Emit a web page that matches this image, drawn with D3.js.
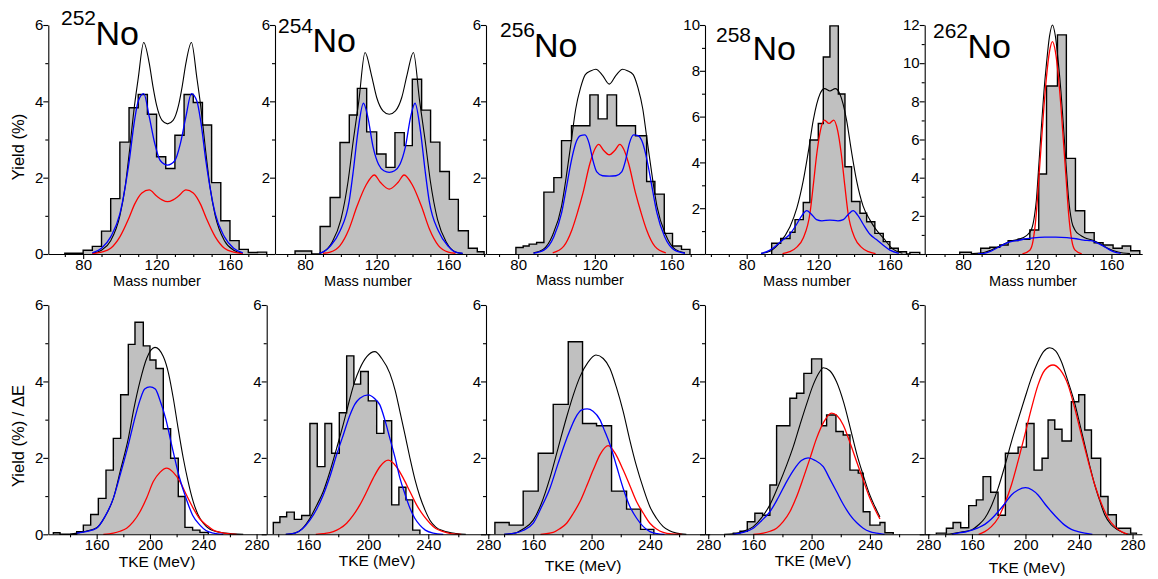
<!DOCTYPE html>
<html lang="en">
<head>
<meta charset="UTF-8" />
<title>No isotopes: mass and TKE distributions</title>
<style>
  body { margin: 0; background: #fff; }
  svg { display: block; font-family: "Liberation Sans", Arial, sans-serif; }
  .tick text { font-size: 15px; fill: #000; }
  .tick line, .domain { stroke: #000; stroke-width: 1.1; }
</style>
</head>
<body>
<svg id="chart" width="1158" height="579"></svg>
<script src="https://d3js.org/d3.v7.min.js"></script>
<script>
// ---------- data ----------
const isotopes = ["252", "254", "256", "258", "262"];
const massTicks = [80, 120, 160];
const tkeTicks = [160, 200, 240, 280];

// mass yield histograms (bin edges, yield %)
const massEdges252 = [70,80,85,90,95,100,105,110,115,120,125,130,135,140,145,150,155,160,165,170,175,180];
const massYield252 = [0.02,0.1,0.2,0.6,1.45,2.93,3.83,4.18,3.66,2.55,2.24,3.11,4.18,3.97,3.38,1.87,0.87,0.35,0.12,0.04,0.05];
const massEdges254 = [74.4,83.7,88.4,94,99.5,104.7,109.2,114.4,120,125.2,130.2,135.4,139.9,145.1,150.1,155.3,160.6,165.6,171.2,176.2,180];
const massYield254 = [0.08,0,0.72,1.48,2.92,3.64,4.34,3.2,2.62,2.27,3.18,2.84,4.58,3.77,2.93,2.16,1.43,0.61,0.15,0.06];
const massEdges256 = [78.8,82.6,85.7,89.6,93.4,98.6,102.6,107.8,117.4,121.7,126.4,131.3,141.2,147,151.3,156.2,160.5,165.2,169.6];
const massYield256 = [0.17,0.21,0.26,0.3,1.62,2.0,2.97,3.36,4.17,3.54,4.17,3.36,3.1,1.9,1.57,0.54,0.21,0.12];
const massEdges258 = [93.95,99,104.2,107,111.6,115.3,120,122.8,126.5,131.2,134.9,138.6,143.3,147,151.6,156.3,160,164.7,169.3,171.2,176.7];
const massYield258 = [0.47,0.68,0.95,1.5,2.25,4.98,5.7,8.6,9.96,6.99,3.81,2.29,1.78,1.41,0.9,0.54,0.25,0.1,0,0.07];
const massEdges262 = [78.2,84.5,89.5,94.4,99.8,104.3,109.7,116,120.8,125,130.9,135.7,140.6,145.6,150.7,155.5,160.9,165.8,170.4,175.3];
const massYield262 = [0.09,0,0.3,0.35,0.47,0.7,0.77,1.26,4.19,8.8,11.48,5.01,2.27,1.12,0.59,0.47,0.3,0.42,0.17];

// mass fit curves: sum (black), mode 1 (blue), mode 2 (red) as [A, yield]
const massSum252 = [[85,0.02],[90,0.1],[95,0.35],[100,1.0],[103,1.8],[105,2.6],[108,3.9],[110,4.6],[113,5.54],[116,5.0],[118,4.4],[120,3.9],[123,3.5],[126,3.41],[129,3.5],[132,3.9],[134,4.4],[136,5.0],[139,5.54],[142,4.6],[144,3.9],[147,2.6],[149,1.8],[152,1.0],[157,0.35],[162,0.1],[167,0.02]];
const massMode1_252 = [[85,0.03],[90,0.15],[95,0.45],[100,1.05],[105,2.4],[108,3.5],[110,4.0],[113,4.2],[116,3.6],[119,2.9],[122,2.45],[126,2.33],[130,2.45],[133,2.9],[136,3.6],[139,4.2],[142,4.0],[144,3.5],[147,2.4],[152,1.05],[157,0.45],[162,0.15],[167,0.03]];
const massMode2_252 = [[85,0.01],[90,0.05],[95,0.15],[100,0.45],[105,0.95],[108,1.3],[112,1.6],[116,1.68],[120,1.52],[123,1.42],[126,1.37],[129,1.42],[132,1.52],[136,1.68],[140,1.6],[144,1.3],[147,0.95],[152,0.45],[157,0.15],[162,0.05],[167,0.01]];

const massSum254 = [[88,0.02],[90,0.05],[95,0.3],[100,0.9],[104,1.9],[107,3.0],[110,4.0],[113.5,5.28],[117,4.7],[120,4.1],[123.5,3.75],[127,3.66],[130.5,3.75],[134,4.1],[137,4.7],[140.5,5.28],[144,4.0],[147,3.0],[150,1.9],[154,0.9],[159,0.3],[164,0.05],[168,0.01]];
const massMode1_254 = [[88,0.02],[90,0.05],[94,0.2],[99.5,0.6],[104.7,1.4],[107,2.2],[109.5,3.2],[112.6,3.95],[115,3.6],[118,2.8],[121,2.35],[124,2.18],[127,2.14],[130,2.18],[133,2.35],[136,2.8],[139,3.6],[141.4,3.95],[144.5,3.2],[147,2.2],[149.3,1.4],[154.5,0.6],[160,0.2],[164,0.05],[168,0.02]];
const massMode2_254 = [[90,0.02],[94,0.05],[99.5,0.22],[104.5,0.65],[109,1.25],[114,1.8],[118.7,2.07],[122,1.88],[127,1.7],[132,1.88],[135.3,2.07],[140,1.8],[145,1.25],[149.5,0.65],[154.5,0.22],[160,0.05],[164,0.02]];

const massSum256 = [[88,0.03],[93,0.12],[98,0.5],[102.6,1.25],[105,2.0],[107.8,3.0],[110,3.8],[112.5,4.35],[115,4.7],[118,4.8],[120.5,4.84],[124,4.68],[127.5,4.45],[131,4.68],[134.5,4.84],[137,4.8],[140,4.7],[142.5,4.35],[145,3.8],[147.2,3.0],[150,2.0],[152.4,1.25],[157,0.5],[162,0.12],[167,0.03]];
const massMode1_256 = [[88,0.02],[93.4,0.1],[98.6,0.45],[102.6,1.07],[105,1.7],[107.8,2.46],[110,2.9],[112.5,3.1],[114.8,3.12],[117,2.9],[119,2.45],[121,2.15],[124,2.05],[127.5,2.04],[131,2.05],[134,2.15],[136,2.45],[138,2.9],[140.2,3.12],[142.5,3.1],[145,2.9],[147.2,2.46],[150,1.7],[152.4,1.07],[156.4,0.45],[161.6,0.1],[167,0.02]];
const massMode2_256 = [[98,0.03],[103.7,0.2],[108,0.63],[111,1.1],[113.8,1.6],[117.4,2.37],[120,2.75],[122,2.87],[124.5,2.72],[127.5,2.6],[130.5,2.72],[133,2.87],[135,2.75],[137.6,2.37],[141.2,1.6],[144,1.1],[147,0.63],[151.3,0.2],[157,0.03]];

const massSum258 = [[88,0.03],[93,0.12],[98,0.45],[104.2,1.19],[108,2.0],[111.6,3.2],[114.5,4.5],[117.2,5.85],[121,7.0],[123.5,7.22],[126.5,7.12],[129.5,7.22],[132,7.0],[135.8,5.85],[138.5,4.5],[141.4,3.2],[145,2.1],[148.9,1.48],[152,1.1],[156.3,0.7],[161.9,0.2],[167,0.03]];
const massMode1_258 = [[88,0.02],[93,0.17],[97,0.4],[100.5,0.63],[104,0.85],[107.9,1.3],[111,1.7],[113.5,1.89],[116,1.75],[119,1.5],[122,1.45],[126.5,1.48],[131,1.45],[134,1.5],[137,1.75],[139.5,1.89],[142,1.7],[145.1,1.3],[149,0.85],[152.5,0.63],[156,0.4],[160,0.17],[165,0.03]];
const massMode2_258 = [[100,0.02],[104,0.1],[108,0.3],[111.6,0.7],[115.4,1.8],[117.2,3.0],[119.2,4.4],[121.2,5.4],[123.4,5.85],[126,5.7],[128.6,5.85],[130.8,5.4],[132.8,4.4],[134.8,3.0],[136.6,1.8],[140.4,0.7],[144,0.3],[148,0.1],[152,0.02]];

const massSum262 = [[85,0.02],[91.7,0.09],[95,0.2],[100.7,0.45],[105,0.66],[109.7,0.77],[114,0.95],[116.9,1.3],[118.5,2.0],[119.5,2.8],[120.8,4.6],[122.2,6.6],[123.6,8.5],[125,10.0],[126.6,11.4],[128.2,12.0],[129.8,11.4],[131.4,10.0],[132.8,8.5],[134.2,6.6],[135.6,4.6],[136.9,2.9],[138.6,1.7],[140.4,1.25],[143,1.0],[145.6,0.85],[150,0.72],[154.6,0.5],[158,0.3],[163.6,0.1],[170,0.02]];
const massMode1_262 = [[88,0.01],[92,0.05],[95,0.15],[98,0.3],[101,0.45],[104,0.6],[107,0.68],[110,0.72],[114,0.8],[118,0.85],[124,0.88],[130,0.88],[136,0.86],[141,0.8],[145,0.73],[149,0.7],[152,0.6],[155,0.45],[158,0.28],[161,0.12],[165,0.03]];
const massMode2_262 = [[112,0.01],[116,0.2],[117.8,0.73],[119.5,2.13],[120.8,3.9],[122.2,5.8],[123.6,7.7],[125,9.3],[126.6,10.6],[128.2,11.13],[129.8,10.6],[131.4,9.3],[132.8,7.7],[134.2,5.8],[135.6,3.9],[136.9,2.13],[138.6,0.73],[140.4,0.2],[144,0.01]];

// TKE histograms (bin edges MeV, yield % / dE)
const tkeEdges252 = [127.5,132.5,145,150,155.5,161.25,167,172.5,178,183.75,188.75,195,200,204.5,210,215.5,221.25,226.25,232,237.5,243.75];
const tkeYield252 = [0.04,0,0.07,0.24,0.52,0.94,1.68,2.51,3.65,4.97,5.55,4.93,4.56,4.34,2.76,1.99,0.99,0.18,0.11,0.05];
const tkeEdges254 = [136.7,141.1,145.6,150.7,155.6,161.1,166,171.1,175.6,180.7,185.6,190.4,194.9,200,205.6,210.4,215.6,220.4,225.1,229.6,234.4];
const tkeYield254 = [0.31,0.46,0.58,0.39,0.49,2.9,1.77,2.9,2.12,3.18,4.67,3.93,4.26,3.49,2.64,2.97,0.77,1.23,0.9,0.11];
const tkeEdges256 = [133.7,143.5,153.1,163.4,173.7,184,193.8,203.4,213.7,224,233.6,242.7];
const tkeYield256 = [0.31,0.24,1.13,2.12,3.4,5.04,2.9,2.84,1.13,0.66,0.13];
const tkeEdges258 = [146.3,150.9,155.9,161.1,166.4,171.4,176,185.1,189.7,194.7,200,206.9,210.3,216.7,221.7,226.3,232,235.4,240,246.9,250.3,256];
const tkeYield258 = [0.03,0.08,0.33,0.55,0.5,1.29,2.84,3.56,3.69,4.21,4.59,2.84,3.12,2.69,2.6,1.68,1.6,0.59,0.24,0.31,0.04];
const tkeEdges262 = [133.4,140.9,145.9,151.6,157.6,163.3,168.3,174,179.5,185,194.5,200.7,206.4,212.4,216.9,221.9,227.3,234.3,239.8,244.3,249.3,256.2,261.7,267.9,278.6,282.9];
const tkeYield262 = [0.03,0.16,0.31,0.17,0.75,0.9,1.51,1.1,0.5,2.12,2.28,2.9,1.68,1.99,2.99,2.75,2.44,3.47,3.65,2.73,1.99,0.99,0.51,0.16,0.03];

// TKE fit curves as [MeV, yield]
const tkeSum252 = [[140,0],[145,0.03],[152,0.08],[160,0.17],[166,0.45],[172.5,0.94],[178,1.7],[183.75,2.51],[188,3.3],[192.5,4.0],[197.5,4.6],[203.75,4.89],[210,4.65],[214,4.2],[217.5,3.56],[221,2.8],[225,1.99],[228.5,1.4],[232.5,0.85],[236,0.52],[240,0.29],[245,0.13],[250,0.07],[256,0.03],[262.5,0.01],[270,0]];
const tkeMode1_252 = [[145,0.03],[152,0.07],[160,0.16],[166,0.45],[172.5,0.94],[178,1.6],[183.75,2.34],[188,2.95],[192.5,3.51],[196,3.8],[200,3.86],[204,3.8],[207.5,3.51],[212,3.0],[216.25,2.34],[222,1.5],[227.5,0.9],[232,0.5],[237.5,0.24],[242,0.1],[247.5,0.03],[255,0]];
const tkeMode2_252 = [[165,0],[172.5,0.03],[177.5,0.08],[182.5,0.16],[187.5,0.33],[192.5,0.59],[197.5,0.95],[202.5,1.38],[207.5,1.62],[212.5,1.73],[217.5,1.62],[222.5,1.38],[227.5,1.02],[232.5,0.68],[237.5,0.4],[242.5,0.24],[247.5,0.11],[252.5,0.05],[260,0.01],[265,0]];

const tkeSum254 = [[145,0],[151.1,0.03],[156,0.15],[161.1,0.42],[165.5,0.75],[170,1.12],[174.5,1.65],[178.9,2.25],[183.5,2.9],[187.8,3.56],[191,4.0],[194.4,4.34],[199,4.65],[204.4,4.78],[209,4.6],[214.4,4.21],[218,3.75],[221.1,3.21],[224.5,2.6],[227.8,1.99],[231,1.45],[234.4,0.99],[238,0.62],[241.1,0.37],[245,0.19],[250,0.09],[258.9,0.02],[265,0]];
const tkeMode1_254 = [[145,0],[151.1,0.03],[156,0.14],[161.1,0.37],[165.5,0.65],[170,1.03],[174.5,1.52],[178.9,2.08],[183.5,2.62],[187.8,3.12],[191,3.4],[194.4,3.56],[200,3.65],[204,3.56],[207.8,3.38],[211,3.0],[214.4,2.51],[218,1.98],[221.1,1.47],[224.5,1.05],[227.8,0.68],[231,0.42],[234.4,0.24],[238,0.11],[243.3,0.03],[250,0]];
const tkeMode2_254 = [[165,0],[170,0.02],[176.7,0.07],[181,0.15],[185.6,0.29],[190,0.5],[194.4,0.77],[199,1.12],[203.3,1.47],[208,1.78],[213.3,1.94],[218.5,1.78],[223.3,1.47],[228,1.1],[232.2,0.77],[237,0.48],[241.1,0.29],[245,0.15],[250,0.07],[255,0.02],[262,0]];

const tkeSum256 = [[140,0],[147.4,0.03],[153,0.14],[160,0.37],[165.5,0.8],[171.4,1.47],[177,2.25],[182.9,3.07],[187.5,3.65],[192,4.12],[197.5,4.5],[203,4.69],[208,4.6],[212.6,4.34],[217,3.85],[221.7,3.21],[226,2.5],[230.9,1.77],[235.5,1.2],[240,0.72],[244.5,0.42],[249.1,0.2],[253.5,0.09],[258.3,0.03],[265,0]];
const tkeMode1_256 = [[140,0],[147.4,0.03],[153,0.1],[160,0.29],[165.5,0.7],[171.4,1.2],[177,1.85],[182.9,2.5],[189.7,3.1],[193,3.25],[197,3.28],[201,3.22],[205.7,3.0],[209,2.7],[212.6,2.35],[217,1.8],[221.7,1.2],[226,0.75],[230.9,0.42],[235.5,0.2],[240,0.07],[245,0.02],[250,0]];
const tkeMode2_256 = [[165,0],[173.7,0.05],[178,0.14],[182.9,0.29],[187.5,0.55],[192,0.85],[196.5,1.25],[201.1,1.68],[206,2.1],[211.4,2.32],[216.5,2.1],[221.7,1.68],[226.5,1.25],[230.9,0.85],[235.5,0.55],[240,0.29],[244.5,0.14],[249.1,0.05],[255,0.01],[262,0]];

const tkeSum258 = [[140,0],[146.3,0.01],[153,0.08],[160,0.2],[166,0.45],[171.4,0.77],[177,1.25],[182.9,1.81],[187.5,2.3],[192,2.86],[196.5,3.4],[201.1,3.91],[205,4.22],[208,4.36],[212.5,4.28],[217.1,3.99],[222,3.45],[226.3,2.82],[231,2.1],[235.4,1.55],[240,1.02],[243.5,0.72],[246.9,0.45]];
const tkeMode1_258 = [[146.3,0],[153,0.05],[160,0.16],[165.5,0.35],[171.4,0.59],[177,0.95],[182.9,1.38],[188,1.7],[193,1.93],[197.7,2.0],[202.5,1.93],[208,1.77],[212.5,1.45],[217.1,1.12],[221.5,0.8],[226.3,0.51],[231,0.3],[235.4,0.16],[240,0.07],[244.6,0.03],[250,0]];
const tkeMode2_258 = [[160,0],[166.9,0.03],[171.5,0.08],[176,0.16],[180.5,0.33],[185.1,0.59],[189.7,0.98],[194.3,1.47],[199,2.0],[203.4,2.51],[208.5,2.95],[213.7,3.17],[217.5,3.1],[221.7,2.86],[226.3,2.4],[230.9,1.9],[235.4,1.42],[240,0.94],[243.5,0.65],[246.9,0.4]];

const tkeSum262 = [[140,0],[145.9,0.02],[152,0.06],[159.6,0.11],[165,0.25],[169.6,0.42],[175,0.78],[179.5,1.2],[184.5,1.78],[189.5,2.42],[194.5,3.0],[199.5,3.56],[204.5,4.1],[209.4,4.52],[213.5,4.78],[218.1,4.88],[222.5,4.8],[226.8,4.52],[231.8,4.0],[236.8,3.43],[240.5,2.9],[244.3,2.34],[248,1.8],[251.8,1.29],[255.5,0.88],[259.2,0.51],[264,0.25],[269.2,0.11],[274,0.03],[279.2,0]];
const tkeMode1_262 = [[145,0],[149.6,0.03],[155,0.06],[160,0.11],[164.6,0.17],[169.6,0.26],[174.5,0.4],[179.5,0.59],[184.5,0.8],[189.5,1.03],[194.5,1.16],[200,1.22],[205,1.16],[209.4,1.03],[214.4,0.8],[219.4,0.59],[224.4,0.4],[229.3,0.24],[234.3,0.13],[239.3,0.07],[244.3,0.03],[250,0]];
const tkeMode2_262 = [[165,0],[169.6,0.07],[174.5,0.2],[179.5,0.42],[184.5,0.8],[189.5,1.29],[194.5,1.92],[199.5,2.6],[204.5,3.3],[209.4,3.91],[214.5,4.3],[220.6,4.43],[226,4.3],[231.8,3.91],[236.8,3.3],[241.8,2.6],[246.8,1.92],[251.8,1.29],[256.8,0.8],[261.8,0.42],[266.8,0.2],[271.7,0.07],[276.5,0]];

// ---------- layout (pixels) ----------
const topFrames = [
  { left: 48.3, right: 274.0, dom: [61, 184], ymax: 6, tx: 157, ty: 286, sup: [61, 25], no: [95.5, 45] },
  { left: 275, right: 485.9, dom: [63.2, 181], ymax: 6, tx: 368, ty: 286, sup: [278, 33], no: [312.5, 52] },
  { left: 486, right: 704.9, dom: [63.2, 177.4], ymax: 6, tx: 580, ty: 285, sup: [500, 37], no: [534, 57] },
  { left: 705, right: 924.6, dom: [56.7, 179.4], ymax: 10, tx: 807, ty: 286, sup: [716, 42], no: [752.5, 60] },
  { left: 924.7, right: 1142.2, dom: [59.3, 176.6], ymax: 12, tx: 1033, ty: 286, sup: [933, 38], no: [967.5, 58] }
];
const botFrames = [
  { left: 48.3, right: 266.7, dom: [123.7, 287.6], tx: 157, ty: 567 },
  { left: 266.7, right: 489.8, dom: [132.3, 281], tx: 377, ty: 566 },
  { left: 486, right: 709.7, dom: [127.6, 281], tx: 583, ty: 571 },
  { left: 705, right: 929.7, dom: [126.9, 281], tx: 813, ty: 566 },
  { left: 924.7, right: 1141.9, dom: [124.7, 287], tx: 1027, ty: 573 }
];
const topY = [254, 25];
const botY = [534.3, 305];

const massHists = [[massEdges252, massYield252], [massEdges254, massYield254], [massEdges256, massYield256], [massEdges258, massYield258], [massEdges262, massYield262]];
const massFits = [[massSum252, massMode2_252, massMode1_252], [massSum254, massMode2_254, massMode1_254], [massSum256, massMode2_256, massMode1_256], [massSum258, massMode2_258, massMode1_258], [massSum262, massMode2_262, massMode1_262]];
const tkeHists = [[tkeEdges252, tkeYield252], [tkeEdges254, tkeYield254], [tkeEdges256, tkeYield256], [tkeEdges258, tkeYield258], [tkeEdges262, tkeYield262]];
const tkeFits = [[tkeSum252, tkeMode2_252, tkeMode1_252], [tkeSum254, tkeMode2_254, tkeMode1_254], [tkeSum256, tkeMode2_256, tkeMode1_256], [tkeSum258, tkeMode2_258, tkeMode1_258], [tkeSum262, tkeMode2_262, tkeMode1_262]];
const fitColors = ["#000000", "#ff0000", "#0000ff"];
const fitWidths = [1.1, 1.3, 1.3];

const svg = d3.select("#chart");

function drawPanel(frame, yRange, ymax, hist, fits, xTickStep, xFirst, xMajors, index) {
  const g = svg.append("g");
  const x = d3.scaleLinear().domain(frame.dom).range([frame.left, frame.right]);
  const y = d3.scaleLinear().domain([0, ymax]).range(yRange);

  // histogram as a filled step outline
  const [edges, vals] = hist;
  const pts = [[edges[0], 0]];
  vals.forEach((v, i) => pts.push([edges[i], v], [edges[i + 1], v]));
  pts.push([edges[edges.length - 1], 0]);
  g.append("path")
    .attr("d", d3.line().x(d => x(d[0])).y(d => y(d[1]))(pts))
    .attr("fill", "#c0c0c0")
    .attr("stroke", "#000")
    .attr("stroke-width", 1.4)
    .attr("stroke-linejoin", "miter");

  // fitted curves
  const line = d3.line().x(d => x(d[0])).y(d => y(d[1])).curve(d3.curveMonotoneX);
  fits.forEach((f, k) => {
    g.append("path")
      .attr("d", line(f))
      .attr("fill", "none")
      .attr("stroke", fitColors[k])
      .attr("stroke-width", fitWidths[k]);
  });

  // x axis
  const xt = d3.range(xFirst, frame.dom[1] + 0.01, xTickStep).filter(v => v >= frame.dom[0]);
  const xa = g.append("g")
    .attr("transform", `translate(0,${yRange[0]})`)
    .call(d3.axisBottom(x).tickValues(xt).tickSize(3).tickSizeOuter(0).tickPadding(2)
      .tickFormat(d => xMajors.includes(d) ? d : ""));
  xa.selectAll(".tick").filter(d => xMajors.includes(d)).select("line").attr("y2", 5);
  xa.selectAll(".tick text").attr("y", 5);

  // y axis
  const yt = d3.range(0, ymax + 1, 1);
  const ya = g.append("g")
    .attr("transform", `translate(${frame.left},0)`)
    .call(d3.axisLeft(y).tickValues(yt).tickSize(3).tickSizeOuter(0).tickPadding(2)
      .tickFormat(d => (d % 2 === 0 && (d > 0 || index === 0)) ? d : ""));
  ya.selectAll(".tick").filter(d => d % 2 === 0).select("line").attr("x2", -5);
  ya.selectAll(".tick text").attr("x", -5);
  return g;
}

topFrames.forEach((f, i) => {
  drawPanel(f, topY, f.ymax, massHists[i], massFits[i], 10, 60, massTicks, i);
  svg.append("text").attr("x", f.tx).attr("y", f.ty).attr("text-anchor", "middle")
    .attr("font-size", 14.5).text("Mass number");
  svg.append("text").attr("x", f.sup[0]).attr("y", f.sup[1]).attr("font-size", 21).text(isotopes[i]);
  svg.append("text").attr("x", f.no[0]).attr("y", f.no[1]).attr("font-size", 34).text("No");
});

botFrames.forEach((f, i) => {
  drawPanel(f, botY, 6, tkeHists[i], tkeFits[i], 20, 140, tkeTicks, i);
  svg.append("text").attr("x", f.tx).attr("y", f.ty).attr("text-anchor", "middle")
    .attr("font-size", 15.5).text("TKE (MeV)");
});

svg.append("text")
  .attr("transform", "translate(24,147) rotate(-90)")
  .attr("text-anchor", "middle").attr("font-size", 16.5)
  .text("Yield (%)");
svg.append("text")
  .attr("transform", "translate(24,436) rotate(-90)")
  .attr("text-anchor", "middle").attr("font-size", 16.5)
  .text("Yield (%) / \u0394E");
</script>
</body>
</html>
